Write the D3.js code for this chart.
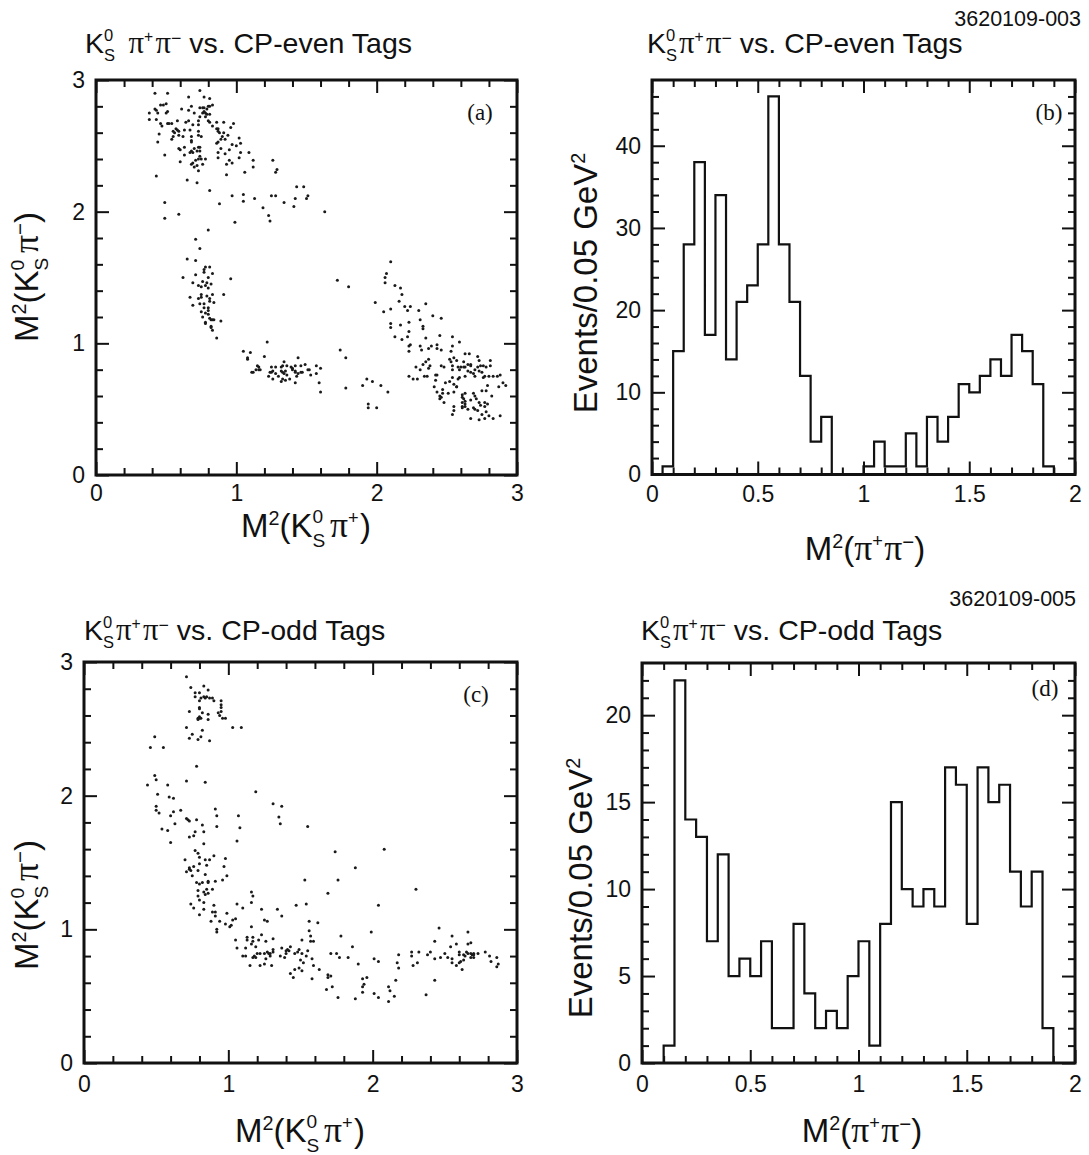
<!DOCTYPE html>
<html>
<head>
<meta charset="utf-8">
<script src="https://cdn.jsdelivr.net/npm/d3@7"></script>
<style>
  body { margin: 0; background: #fff; }
  svg { display: block; }
</style>
</head>
<body>
<svg id="fig" width="1089" height="1155"></svg>
<script>
// ---------------------------------------------------------------
// Dalitz-plot events and M^2(pi+ pi-) projections for
// K0S pi+ pi- decays recoiling against CP-even and CP-odd tags.
// ---------------------------------------------------------------

// Events opposite CP-even tags: [M^2(K0S pi+), M^2(K0S pi-)] in GeV^2
const cpEvenPoints = [
  [0.42,2.90],[0.51,2.90],[0.74,2.92],[0.66,2.87],[0.77,2.87],[0.81,2.86],[0.50,2.82],[0.48,2.81],[0.46,2.81],[0.42,2.78],
  [0.43,2.77],[0.38,2.75],[0.44,2.75],[0.51,2.76],[0.50,2.75],[0.38,2.70],[0.43,2.70],[0.61,2.78],[0.68,2.80],[0.66,2.77],
  [0.74,2.79],[0.76,2.79],[0.77,2.79],[0.80,2.80],[0.83,2.81],[0.81,2.80],[0.79,2.78],[0.77,2.76],[0.76,2.75],[0.78,2.75],
  [0.79,2.74],[0.78,2.72],[0.81,2.74],[0.74,2.72],[0.70,2.75],[0.46,2.67],[0.47,2.65],[0.51,2.67],[0.52,2.67],[0.54,2.67],
  [0.58,2.69],[0.66,2.69],[0.64,2.68],[0.69,2.66],[0.73,2.69],[0.73,2.66],[0.80,2.69],[0.81,2.68],[0.86,2.68],[0.91,2.68],
  [0.98,2.67],[0.96,2.64],[0.83,2.65],[0.57,2.63],[0.55,2.61],[0.58,2.62],[0.59,2.61],[0.56,2.60],[0.55,2.57],[0.54,2.55],
  [0.59,2.58],[0.45,2.59],[0.44,2.53],[0.63,2.62],[0.67,2.62],[0.73,2.61],[0.73,2.58],[0.86,2.63],[0.87,2.63],[0.87,2.61],
  [0.88,2.60],[0.91,2.60],[0.94,2.58],[0.68,2.57],[0.68,2.54],[0.62,2.57],[0.75,2.57],[0.68,2.53],[0.90,2.57],[0.89,2.55],
  [0.87,2.53],[0.92,2.55],[1.02,2.56],[1.03,2.52],[1.00,2.50],[0.97,2.51],[0.86,2.52],[0.59,2.48],[0.60,2.47],[0.63,2.49],
  [0.70,2.48],[0.73,2.49],[0.74,2.49],[0.72,2.46],[0.74,2.46],[0.68,2.46],[0.67,2.45],[0.69,2.45],[0.63,2.43],[0.89,2.48],
  [0.87,2.45],[0.92,2.44],[0.95,2.47],[1.03,2.45],[1.09,2.45],[1.02,2.41],[0.49,2.43],[0.74,2.42],[0.73,2.40],[0.75,2.40],
  [0.78,2.40],[0.71,2.39],[0.60,2.38],[0.69,2.37],[0.68,2.36],[0.70,2.34],[0.72,2.35],[0.76,2.36],[0.73,2.31],[0.87,2.41],
  [0.95,2.39],[0.97,2.37],[0.93,2.36],[1.12,2.39],[1.12,2.34],[1.06,2.30],[1.26,2.39],[1.29,2.32],[1.28,2.30],[0.43,2.27],
  [0.93,2.28],[0.65,2.24],[0.72,2.22],[0.81,2.16],[1.43,2.19],[1.48,2.19],[0.97,2.12],[1.05,2.13],[1.05,2.08],[1.13,2.10],
  [1.25,2.12],[1.28,2.12],[1.51,2.12],[1.50,2.10],[1.42,2.10],[1.34,2.07],[0.88,2.06],[0.49,2.07],[1.19,2.03],[1.41,2.04],
  [1.63,2.00],[1.23,1.97],[1.24,1.93],[0.99,1.92],[0.59,1.98],[0.49,1.95],
  [0.80,1.86],[0.71,1.79],[0.74,1.72],[0.65,1.64],[0.71,1.63],[0.78,1.58],[0.81,1.58],[0.77,1.56],[0.77,1.54],[0.83,1.53],
  [0.62,1.50],[0.71,1.52],[0.96,1.49],[0.80,1.50],[0.76,1.47],[0.69,1.46],[0.79,1.46],[0.82,1.45],[0.73,1.44],[0.75,1.43],
  [0.78,1.44],[0.80,1.42],[0.67,1.35],[0.73,1.34],[0.75,1.37],[0.75,1.35],[0.79,1.36],[0.83,1.37],[0.81,1.34],[0.81,1.32],
  [0.84,1.31],[0.91,1.37],[0.74,1.30],[0.77,1.30],[0.69,1.29],[0.77,1.27],[0.80,1.27],[0.80,1.25],[0.75,1.24],[0.78,1.23],
  [0.80,1.22],[0.76,1.20],[0.78,1.16],[0.81,1.19],[0.82,1.18],[0.83,1.18],[0.84,1.18],[0.78,1.15],[0.82,1.13],[0.82,1.12],
  [0.83,1.10],[0.89,1.17],[0.86,1.04],[1.22,1.01],[1.05,0.94],[1.10,0.93],[1.20,0.90],[1.08,0.89],[1.08,0.88],[1.15,0.83],
  [1.16,0.82],[1.14,0.80],[1.16,0.80],[1.17,0.80],[1.12,0.78],[1.11,0.78],[1.25,0.82],[1.28,0.82],[1.32,0.82],[1.33,0.83],
  [1.36,0.83],[1.34,0.86],[1.39,0.82],[1.42,0.83],[1.44,0.89],[1.46,0.83],[1.49,0.84],[1.57,0.83],[1.60,0.81],[1.25,0.78],
  [1.26,0.79],[1.28,0.77],[1.24,0.78],[1.23,0.75],[1.30,0.75],[1.26,0.73],[1.32,0.79],[1.33,0.78],[1.35,0.79],[1.34,0.77],
  [1.36,0.76],[1.40,0.81],[1.42,0.79],[1.40,0.80],[1.33,0.73],[1.35,0.72],[1.38,0.73],[1.42,0.78],[1.44,0.77],[1.43,0.75],
  [1.46,0.78],[1.47,0.78],[1.51,0.80],[1.52,0.80],[1.53,0.76],[1.57,0.77],[1.42,0.70],[1.59,0.70],[1.60,0.63],[1.32,0.71],
  [2.10,1.62],[2.07,1.53],[2.06,1.50],[2.06,1.46],[1.72,1.48],[1.80,1.43],[2.13,1.44],[2.17,1.42],[2.18,1.37],[1.99,1.31],
  [2.16,1.32],[2.10,1.26],[2.05,1.24],[2.20,1.28],[2.24,1.28],[2.22,1.25],[2.35,1.30],[2.30,1.25],[2.40,1.21],[2.46,1.19],
  [2.31,1.18],[2.23,1.16],[2.10,1.15],[2.10,1.12],[2.17,1.14],[2.33,1.13],[2.33,1.11],[2.23,1.09],[2.13,1.05],[2.18,1.03],
  [2.22,1.05],[2.35,1.04],[2.45,1.06],[2.54,1.05],[2.24,0.99],[2.23,0.98],[2.31,0.98],[2.39,0.98],[2.43,0.99],[2.23,0.94],
  [2.32,0.95],[2.37,0.96],[2.43,0.96],[2.46,0.95],[2.54,0.98],[2.59,1.01],[1.74,0.95],[1.78,0.89],[2.53,0.94],[2.63,0.92],
  [2.66,0.92],[2.37,0.88],[2.35,0.86],[2.52,0.88],[2.55,0.89],[2.53,0.86],[2.57,0.87],[2.72,0.90],[2.73,0.87],[2.62,0.86],
  [2.65,0.84],[2.67,0.84],[2.81,0.87],[2.33,0.84],[2.38,0.83],[2.28,0.82],[2.31,0.80],[2.37,0.81],[2.46,0.83],[2.48,0.82],
  [2.54,0.83],[2.54,0.80],[2.58,0.82],[2.60,0.82],[2.62,0.82],[2.63,0.82],[2.67,0.83],[2.70,0.80],[2.72,0.82],[2.74,0.83],
  [2.76,0.83],[2.78,0.82],[2.81,0.83],[2.73,0.79],[2.69,0.77],[2.67,0.78],[2.59,0.80],[2.65,0.79],[2.75,0.78],[2.83,0.75],
  [2.86,0.75],[2.88,0.76],[2.80,0.75],[2.76,0.74],[2.77,0.75],[2.70,0.75],[2.63,0.75],[2.58,0.73],[2.59,0.74],[2.54,0.74],
  [2.23,0.75],[2.26,0.73],[2.29,0.73],[2.34,0.75],[2.36,0.75],[2.42,0.76],[2.43,0.76],[2.42,0.72],[2.49,0.70],[2.52,0.71],
  [2.55,0.69],[2.57,0.67],[2.57,0.67],[2.90,0.70],[2.92,0.68],[2.87,0.67],[2.79,0.68],[2.75,0.64],[2.78,0.64],[1.90,0.68],
  [1.93,0.73],[1.97,0.71],[2.03,0.68],[1.78,0.66],[2.08,0.63],[2.41,0.67],[2.43,0.63],[2.47,0.65],[2.47,0.62],[2.51,0.62],
  [2.55,0.63],[2.63,0.62],[2.61,0.61],[2.69,0.62],[2.70,0.60],[2.71,0.58],[2.67,0.57],[2.82,0.60],[2.45,0.60],[2.46,0.59],
  [2.45,0.58],[2.48,0.55],[2.55,0.52],[2.61,0.59],[2.62,0.58],[2.63,0.56],[2.61,0.55],[2.63,0.54],[2.63,0.52],[2.61,0.52],
  [2.65,0.50],[2.61,0.51],[2.69,0.51],[2.73,0.55],[2.77,0.55],[2.79,0.54],[2.77,0.52],[2.74,0.53],[2.72,0.49],[2.70,0.50],
  [2.78,0.48],[2.75,0.46],[2.77,0.43],[2.80,0.45],[2.83,0.43],[2.88,0.45],[2.73,0.42],[2.67,0.43],[2.54,0.46],[2.55,0.49],
  [1.94,0.54],[1.94,0.51],[2.00,0.51]
];

// Events opposite CP-odd tags: [M^2(K0S pi+), M^2(K0S pi-)] in GeV^2
const cpOddPoints = [
  [0.71,2.89],[0.74,2.81],[0.83,2.82],[0.86,2.79],[0.77,2.77],[0.80,2.77],[0.77,2.74],[0.81,2.73],[0.83,2.74],[0.84,2.73],
  [0.85,2.74],[0.87,2.73],[0.89,2.73],[0.90,2.71],[0.80,2.71],[0.95,2.71],[0.95,2.68],[0.95,2.66],[0.80,2.66],[0.80,2.65],
  [0.73,2.63],[0.82,2.62],[0.95,2.63],[0.93,2.62],[0.94,2.60],[0.86,2.61],[0.79,2.58],[0.80,2.59],[0.80,2.58],[0.81,2.58],
  [0.79,2.57],[0.86,2.57],[0.96,2.58],[0.98,2.58],[1.03,2.51],[1.09,2.51],[0.71,2.51],[0.82,2.49],[0.75,2.46],[0.73,2.43],
  [0.81,2.44],[0.79,2.42],[0.87,2.41],[0.49,2.44],[0.46,2.36],[0.55,2.36],[0.78,2.22],[0.49,2.15],[0.50,2.12],[0.44,2.08],
  [0.58,2.08],[0.71,2.11],[0.84,2.10],[0.51,2.01],[0.59,1.99],[0.62,1.98],[1.19,2.03],[0.50,1.92],[0.50,1.89],[0.52,1.87],
  [0.62,1.88],[0.67,1.89],[0.60,1.85],[0.91,1.90],[0.92,1.85],[1.07,1.85],[0.71,1.83],[0.72,1.82],[0.73,1.81],[0.78,1.82],
  [0.63,1.79],[0.82,1.78],[0.92,1.77],[1.08,1.76],[1.31,1.94],[1.37,1.92],[1.35,1.84],[1.36,1.79],[0.54,1.75],[0.58,1.74],
  [0.77,1.73],[0.83,1.73],[0.76,1.70],[0.73,1.69],[0.60,1.65],[0.83,1.64],[1.06,1.66],[1.55,1.77],
  [0.77,1.59],[0.79,1.57],[0.80,1.54],[0.90,1.55],[0.98,1.53],[0.70,1.52],[0.84,1.52],[0.87,1.52],[0.80,1.49],[0.85,1.48],
  [0.76,1.47],[0.73,1.46],[0.73,1.45],[0.74,1.44],[0.79,1.44],[0.71,1.43],[0.97,1.47],[0.75,1.40],[0.84,1.41],[0.99,1.40],
  [0.96,1.37],[0.78,1.35],[0.80,1.34],[0.82,1.35],[0.86,1.36],[0.86,1.35],[0.91,1.36],[0.89,1.30],[0.79,1.29],[0.83,1.28],
  [0.85,1.30],[0.84,1.26],[0.79,1.25],[0.86,1.27],[0.80,1.22],[0.83,1.20],[0.74,1.19],[0.76,1.16],[0.90,1.18],[0.83,1.15],
  [0.80,1.11],[0.89,1.13],[0.91,1.13],[0.91,1.10],[0.99,1.12],[0.88,1.06],[0.94,1.06],[0.98,1.04],[1.01,1.02],[1.02,1.03],
  [1.03,1.07],[1.05,1.08],[0.92,1.00],[0.92,0.98],[1.06,1.19],[1.10,1.16],[1.16,1.28],[1.17,1.25],[1.16,1.20],[1.23,1.15],
  [1.25,1.07],[1.27,1.06],[1.16,1.02],[1.34,1.15],[1.37,1.10],[1.47,1.18],[1.54,1.19],[1.53,1.37],[1.56,1.06],[1.62,1.05],
  [1.56,0.99],[1.57,0.95],[1.57,0.91],[1.59,0.91],[1.05,0.92],[1.06,0.86],[1.13,0.94],[1.13,0.92],[1.17,0.94],[1.17,0.91],
  [1.21,0.92],[1.23,0.96],[1.26,0.91],[1.31,0.93],[1.16,0.89],[1.19,0.87],[1.12,0.86],[1.20,0.82],[1.18,0.80],[1.19,0.79],
  [1.17,0.79],[1.10,0.80],[1.12,0.80],[1.22,0.82],[1.25,0.82],[1.27,0.83],[1.28,0.82],[1.29,0.82],[1.31,0.85],[1.31,0.83],
  [1.29,0.80],[1.26,0.78],[1.22,0.73],[1.15,0.73],[1.25,0.74],[1.30,0.73],[1.37,0.86],[1.36,0.80],[1.39,0.79],[1.41,0.85],
  [1.40,0.82],[1.42,0.84],[1.40,0.84],[1.43,0.87],[1.51,0.92],[1.49,0.85],[1.48,0.83],[1.46,0.82],[1.51,0.82],[1.55,0.84],
  [1.54,0.80],[1.50,0.77],[1.52,0.75],[1.58,0.78],[1.59,0.73],[1.46,0.70],[1.49,0.71],[1.51,0.69],[1.43,0.67],[1.45,0.64],
  [1.58,0.63],
  [1.74,1.58],[2.08,1.60],[1.88,1.46],[1.76,1.37],[1.69,1.27],[2.30,1.30],[2.04,1.18],[1.99,0.98],[1.78,0.95],[2.46,1.01],
  [1.86,0.87],[2.66,0.98],[2.55,0.95],[2.43,0.91],[2.68,0.90],[2.66,0.89],[2.54,0.87],[2.58,0.89],[1.71,0.82],[1.75,0.82],
  [1.83,0.79],[1.77,0.79],[2.01,0.78],[2.04,0.76],[1.90,0.74],[2.18,0.81],[2.27,0.83],[2.27,0.80],[2.32,0.83],[2.28,0.73],
  [2.31,0.75],[2.17,0.75],[2.18,0.71],[2.38,0.81],[2.40,0.83],[2.43,0.78],[2.47,0.79],[2.50,0.82],[2.52,0.79],[2.55,0.78],
  [2.55,0.75],[2.58,0.73],[2.60,0.83],[2.60,0.81],[2.61,0.76],[2.60,0.75],[2.62,0.70],[2.63,0.77],[2.63,0.81],[2.65,0.83],
  [2.64,0.80],[2.66,0.82],[2.68,0.82],[2.68,0.79],[2.69,0.81],[2.70,0.81],[2.70,0.79],[2.70,0.82],[2.73,0.82],[2.78,0.83],
  [2.81,0.80],[2.82,0.76],[2.86,0.79],[2.87,0.74],[2.86,0.72],[1.63,0.70],[1.69,0.66],[1.71,0.65],[1.69,0.64],[1.72,0.57],
  [1.68,0.55],[1.76,0.49],[1.88,0.48],[1.93,0.63],[1.94,0.59],[1.93,0.57],[1.93,0.53],[1.96,0.64],[2.01,0.52],[2.04,0.49],
  [2.11,0.46],[2.11,0.57],[2.12,0.54],[2.15,0.50],[2.16,0.62],[2.37,0.51],[2.43,0.62]
];

// M^2(pi+ pi-) histograms, bins of 0.05 GeV^2
const binWidth = 0.05;
const cpEvenFirstBin = 0.05;
const cpEvenCounts = [1,15,28,38,17,34,14,21,23,28,46,28,21,12,4,7,0,0,0,1,4,1,1,5,1,7,4,7,11,10,12,14,12,17,15,11,1];
const cpOddFirstBin = 0.10;
const cpOddCounts = [1,22,14,13,7,12,5,6,5,7,2,2,8,4,2,3,2,5,7,1,8,15,10,9,10,9,17,16,8,17,15,16,11,9,11,2];

// Axis ticks and their labels
const dalitzMajorTicks = [0, 1, 2, 3];
const dalitzTickLabels = ["0", "1", "2", "3"];
const massMajorTicks = [0, 0.5, 1, 1.5, 2];
const massTickLabels = ["0", "0.5", "1", "1.5", "2"];
const evenCountTicks = [0, 10, 20, 30, 40];
const evenCountLabels = ["0", "10", "20", "30", "40"];
const oddCountTicks = [0, 5, 10, 15, 20];
const oddCountLabels = ["0", "5", "10", "15", "20"];

// ---------------------------------------------------------------
const SANS = "'Liberation Sans', Arial, Helvetica, sans-serif";
const SERIF = "'Liberation Serif', 'Times New Roman', serif";
const INK = "#111";
const svg = d3.select("#fig");

// Lay out a run of text pieces (sub/superscripts, mixed fonts) left to right.
function richText(parent, parts, { x, y, size, anchor = "start", rotate = 0 }) {
  const outer = parent.append("g").attr("transform", `translate(${x},${y}) rotate(${rotate})`);
  const g = outer.append("g");
  let cx = 0, stackW = 0;
  parts.forEach(p => {
    const fs = size * (p.scale || 1);
    const el = g.append("text")
      .attr("x", cx)
      .attr("y", (p.dy || 0) * size)
      .attr("font-size", fs)
      .attr("font-family", p.serif ? SERIF : SANS)
      .attr("fill", INK)
      .style("white-space", "pre")
      .text(p.t);
    const w = el.node().getComputedTextLength() + (p.gap || 0) * size;
    if (p.stack) { stackW = w; }
    else { cx += Math.max(w, stackW); stackW = 0; }
  });
  if (anchor === "middle") g.attr("transform", `translate(${-cx / 2},0)`);
  if (anchor === "end") g.attr("transform", `translate(${-cx},0)`);
  return outer;
}

const kShort = [{ t: "K" }, { t: "0", scale: 0.58, dy: -0.41, stack: true }, { t: "S", scale: 0.58, dy: 0.29 }];
const piPlus = [{ t: "π", serif: true, scale: 1.08 }, { t: "+", scale: 0.55, dy: -0.38, gap: 0.04 }];
const piMinus = [{ t: "π", serif: true, scale: 1.08 }, { t: "−", scale: 0.62, dy: -0.33 }];
const msq = [{ t: "M" }, { t: "2", scale: 0.6, dy: -0.36 }, { t: "(" }];

function titleParts(kind, spaced) {
  return [...kShort, { t: "", gap: spaced ? 0.47 : 0.07 }, ...piPlus, { t: "", gap: 0.04 }, ...piMinus, { t: " vs. CP-" + kind + " Tags" }];
}

// Frame with inward ticks on all four sides
function drawAxes(g, xs, ys, cfg) {
  const [xa, xb] = xs.range();
  const [yb, ya] = ys.range();
  const style = sel => {
    sel.select(".domain").remove();
    sel.selectAll("line").attr("stroke", INK).attr("stroke-width", 2);
    sel.selectAll("text").attr("font-family", SANS).attr("font-size", 23).attr("fill", INK);
    return sel;
  };
  const fmt = (ticks, labels) => d => labels[ticks.indexOf(d)];
  // bottom
  g.append("g").attr("transform", `translate(0,${yb})`)
    .call(d3.axisBottom(xs).tickValues(cfg.xMajor).tickFormat(fmt(cfg.xMajor, cfg.xLabels)).tickSizeInner(-13).tickSizeOuter(0).tickPadding(cfg.xPad))
    .call(style);
  g.append("g").attr("transform", `translate(0,${yb})`)
    .call(d3.axisBottom(xs).tickValues(cfg.xMinor).tickFormat("").tickSizeInner(-7).tickSizeOuter(0)).call(style);
  // top
  g.append("g").attr("transform", `translate(0,${ya})`)
    .call(d3.axisTop(xs).tickValues(cfg.xMajor).tickFormat("").tickSizeInner(-13).tickSizeOuter(0)).call(style);
  g.append("g").attr("transform", `translate(0,${ya})`)
    .call(d3.axisTop(xs).tickValues(cfg.xMinor).tickFormat("").tickSizeInner(-7).tickSizeOuter(0)).call(style);
  // left
  g.append("g").attr("transform", `translate(${xa},0)`)
    .call(d3.axisLeft(ys).tickValues(cfg.yMajor).tickFormat(fmt(cfg.yMajor, cfg.yLabels)).tickSizeInner(-13).tickSizeOuter(0).tickPadding(11))
    .call(style);
  g.append("g").attr("transform", `translate(${xa},0)`)
    .call(d3.axisLeft(ys).tickValues(cfg.yMinor).tickFormat("").tickSizeInner(-7).tickSizeOuter(0)).call(style);
  // right
  g.append("g").attr("transform", `translate(${xb},0)`)
    .call(d3.axisRight(ys).tickValues(cfg.yMajor).tickFormat("").tickSizeInner(-13).tickSizeOuter(0)).call(style);
  g.append("g").attr("transform", `translate(${xb},0)`)
    .call(d3.axisRight(ys).tickValues(cfg.yMinor).tickFormat("").tickSizeInner(-7).tickSizeOuter(0)).call(style);
  // frame
  g.append("rect").attr("x", xa).attr("y", ya).attr("width", xb - xa).attr("height", yb - ya)
    .attr("fill", "none").attr("stroke", INK).attr("stroke-width", 3);
}

function panelTag(g, text, x, y) {
  g.append("text").attr("x", x).attr("y", y).attr("text-anchor", "middle")
    .attr("font-family", SERIF).attr("font-size", 23).attr("fill", INK).text(text);
}

const offInteger = step => v => Math.abs(v / step - Math.round(v / step)) > 1e-6;

// ---- scatter panels ----
function dalitzPanel(points, box, tag, tagPos, xPad) {
  const xs = d3.scaleLinear().domain([0, 3]).range([box.left, box.right]);
  const ys = d3.scaleLinear().domain([0, 3]).range([box.bottom, box.top]);
  const g = svg.append("g");
  g.append("g").selectAll("circle").data(points).join("circle")
    .attr("cx", d => xs(d[0])).attr("cy", d => ys(d[1])).attr("r", 1.5).attr("fill", "#1a1a1a");
  const minor = d3.range(0.2, 3, 0.2).filter(offInteger(1));
  drawAxes(g, xs, ys, {
    xMajor: dalitzMajorTicks, xLabels: dalitzTickLabels, xMinor: minor,
    yMajor: dalitzMajorTicks, yLabels: dalitzTickLabels, yMinor: minor, xPad
  });
  panelTag(g, tag, tagPos[0], tagPos[1]);
}

// ---- histogram panels ----
function massPanel(counts, firstBin, box, yMax, yTicks, yLabels, yMinorStep, tag, tagPos, xPad) {
  const xs = d3.scaleLinear().domain([0, 2]).range([box.left, box.right]);
  const ys = d3.scaleLinear().domain([0, yMax]).range([box.bottom, box.top]);
  const g = svg.append("g");
  const outline = [[firstBin, 0]];
  counts.forEach((c, i) => {
    const lo = firstBin + i * binWidth;
    outline.push([lo, c], [lo + binWidth, c]);
  });
  outline.push([firstBin + counts.length * binWidth, 0]);
  g.append("path").datum(outline)
    .attr("d", d3.line().x(d => xs(d[0])).y(d => ys(d[1])))
    .attr("fill", "none").attr("stroke", INK).attr("stroke-width", 2.2).attr("stroke-linejoin", "miter");
  drawAxes(g, xs, ys, {
    xMajor: massMajorTicks, xLabels: massTickLabels,
    xMinor: d3.range(0.1, 2, 0.1).filter(offInteger(0.5)),
    yMajor: yTicks, yLabels: yLabels,
    yMinor: d3.range(yMinorStep, yMax, yMinorStep).filter(v => !yTicks.includes(v)), xPad
  });
  panelTag(g, tag, tagPos[0], tagPos[1]);
}

// Panel (a)
dalitzPanel(cpEvenPoints, { left: 96, right: 517, top: 80, bottom: 475 }, "(a)", [480, 120], 10);
// Panel (b)
massPanel(cpEvenCounts, cpEvenFirstBin, { left: 652, right: 1075, top: 80, bottom: 474.5 }, 48,
  evenCountTicks, evenCountLabels, 2, "(b)", [1049, 120], 11);
// Panel (c)
dalitzPanel(cpOddPoints, { left: 84, right: 517, top: 662, bottom: 1063 }, "(c)", [476, 702], 13);
// Panel (d)
massPanel(cpOddCounts, cpOddFirstBin, { left: 642, right: 1075, top: 663, bottom: 1063 }, 23,
  oddCountTicks, oddCountLabels, 1, "(d)", [1045, 696], 13);

// ---- titles ----
richText(svg, titleParts("even", true), { x: 85, y: 53, size: 28.5 });
richText(svg, titleParts("even", false), { x: 647, y: 53, size: 28.5 });
richText(svg, titleParts("odd", false), { x: 84, y: 640, size: 28.5 });
richText(svg, titleParts("odd", false), { x: 641, y: 640, size: 28.5 });

svg.append("text").attr("x", 1081).attr("y", 26).attr("text-anchor", "end")
  .attr("font-family", SANS).attr("font-size", 21.5).attr("fill", INK).text("3620109-003");
svg.append("text").attr("x", 1076).attr("y", 606).attr("text-anchor", "end")
  .attr("font-family", SANS).attr("font-size", 21.5).attr("fill", INK).text("3620109-005");

// ---- axis titles ----
const kpPlus = [...msq, ...kShort, { t: "", gap: 0.14 }, ...piPlus, { t: ")" }];
const kpMinus = [...msq, ...kShort, { t: "", gap: 0.14 }, ...piMinus, { t: ")" }];
const pipi = [...msq, ...piPlus, ...piMinus, { t: ")" }];
const perBin = [{ t: "Events/0.05 GeV" }, { t: "2", scale: 0.6, dy: -0.36 }];

const AX = 33;
richText(svg, kpPlus, { x: 306, y: 537, size: AX, anchor: "middle" });
richText(svg, pipi, { x: 865, y: 560, size: AX, anchor: "middle" });
richText(svg, kpPlus, { x: 300, y: 1142, size: AX, anchor: "middle" });
richText(svg, pipi, { x: 862, y: 1142, size: AX, anchor: "middle" });

richText(svg, kpMinus, { x: 38, y: 277, size: AX, anchor: "middle", rotate: -90 });
richText(svg, perBin, { x: 597, y: 283, size: AX, anchor: "middle", rotate: -90 });
richText(svg, kpMinus, { x: 38, y: 905, size: AX, anchor: "middle", rotate: -90 });
richText(svg, perBin, { x: 592, y: 888, size: AX, anchor: "middle", rotate: -90 });
</script>
</body>
</html>
